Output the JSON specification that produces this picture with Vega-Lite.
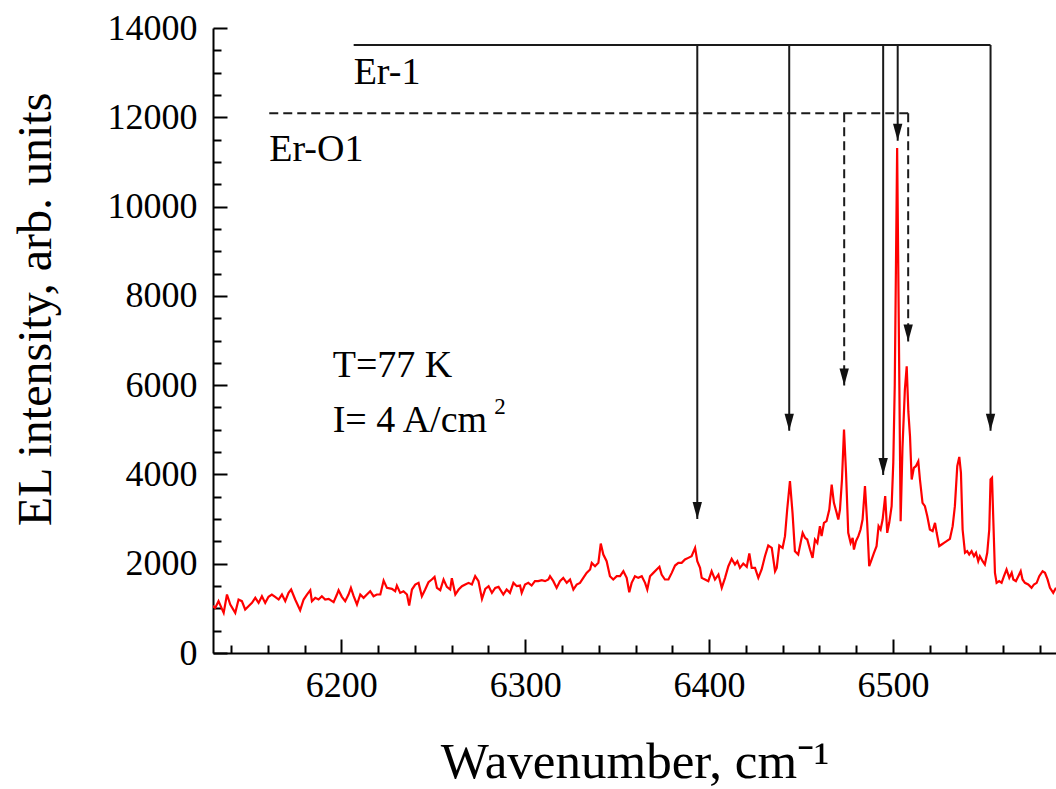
{
  "$schema": "https://vega.github.io/schema/vega-lite/v6.json",
  "width": 843,
  "height": 625,
  "autosize": {"type": "none"},
  "padding": {"left": 213, "top": 28, "right": 0, "bottom": 136},
  "background": "white",
  "config": {
    "view": {"stroke": null},
    "font": "Liberation Serif",
    "axis": {
      "domainColor": "#000",
      "domainWidth": 2,
      "tickColor": "#000",
      "tickWidth": 2,
      "labelFont": "Liberation Serif",
      "labelFontSize": 36,
      "labelColor": "#000",
      "labelOverlap": false,
      "labelFlush": false,
      "labelBound": false,
      "titleFont": "Liberation Serif",
      "titleFontWeight": "normal",
      "titleColor": "#000",
      "grid": false
    }
  },
  "datasets": {
    "spectrum": [
      {"wn":6129.6,"val":1063},{"wn":6131.4,"val":1011},{"wn":6133.2,"val":1161},{"wn":6136.0,"val":899},{"wn":6137.8,"val":1310},{"wn":6139.6,"val":1086},{"wn":6142.3,"val":899},{"wn":6144.1,"val":1198},{"wn":6145.9,"val":1161},{"wn":6147.7,"val":974},{"wn":6149.5,"val":1049},{"wn":6151.4,"val":1123},{"wn":6153.2,"val":1235},{"wn":6155.0,"val":1123},{"wn":6156.8,"val":1272},{"wn":6158.6,"val":1123},{"wn":6160.4,"val":1258},{"wn":6162.2,"val":1310},{"wn":6164.0,"val":1258},{"wn":6165.9,"val":1198},{"wn":6167.7,"val":1310},{"wn":6169.5,"val":1161},{"wn":6171.3,"val":1347},{"wn":6172.7,"val":1422},{"wn":6174.9,"val":1198},{"wn":6177.6,"val":959},{"wn":6179.5,"val":1198},{"wn":6181.3,"val":1310},{"wn":6183.1,"val":1407},{"wn":6184.0,"val":1161},{"wn":6185.8,"val":1235},{"wn":6187.6,"val":1198},{"wn":6189.4,"val":1272},{"wn":6191.2,"val":1198},{"wn":6193.1,"val":1213},{"wn":6195.8,"val":1138},{"wn":6197.6,"val":1310},{"wn":6198.5,"val":1407},{"wn":6200.3,"val":1258},{"wn":6202.1,"val":1161},{"wn":6203.9,"val":1310},{"wn":6205.2,"val":1459},{"wn":6206.7,"val":1272},{"wn":6208.5,"val":1086},{"wn":6210.3,"val":1310},{"wn":6212.1,"val":1235},{"wn":6213.9,"val":1310},{"wn":6215.7,"val":1384},{"wn":6217.5,"val":1272},{"wn":6219.3,"val":1310},{"wn":6221.2,"val":1310},{"wn":6223.0,"val":1623},{"wn":6224.8,"val":1459},{"wn":6227.5,"val":1437},{"wn":6229.3,"val":1384},{"wn":6230.2,"val":1511},{"wn":6232.0,"val":1347},{"wn":6233.8,"val":1384},{"wn":6235.7,"val":1310},{"wn":6236.9,"val":1063},{"wn":6238.4,"val":1422},{"wn":6240.2,"val":1534},{"wn":6242.0,"val":1571},{"wn":6243.8,"val":1272},{"wn":6245.6,"val":1422},{"wn":6247.4,"val":1586},{"wn":6249.2,"val":1646},{"wn":6250.7,"val":1705},{"wn":6252.0,"val":1459},{"wn":6253.8,"val":1407},{"wn":6255.6,"val":1646},{"wn":6257.4,"val":1481},{"wn":6259.2,"val":1422},{"wn":6260.1,"val":1676},{"wn":6262.0,"val":1310},{"wn":6263.8,"val":1422},{"wn":6265.6,"val":1496},{"wn":6267.4,"val":1534},{"wn":6269.2,"val":1571},{"wn":6271.0,"val":1534},{"wn":6272.8,"val":1720},{"wn":6274.6,"val":1608},{"wn":6276.5,"val":1213},{"wn":6278.3,"val":1437},{"wn":6280.1,"val":1496},{"wn":6281.9,"val":1347},{"wn":6283.7,"val":1459},{"wn":6285.5,"val":1481},
      {"wn":6288.1,"val":1310},{"wn":6289.9,"val":1422},{"wn":6291.7,"val":1347},{"wn":6293.6,"val":1571},{"wn":6295.4,"val":1497},{"wn":6297.2,"val":1511},{"wn":6298.1,"val":1347},{"wn":6299.9,"val":1534},{"wn":6301.7,"val":1571},{"wn":6303.5,"val":1511},{"wn":6305.3,"val":1609},{"wn":6307.1,"val":1609},{"wn":6309.0,"val":1631},{"wn":6310.8,"val":1609},{"wn":6312.6,"val":1646},{"wn":6313.5,"val":1720},{"wn":6315.3,"val":1609},{"wn":6317.1,"val":1459},{"wn":6318.9,"val":1609},{"wn":6320.7,"val":1683},{"wn":6322.6,"val":1571},{"wn":6324.4,"val":1646},{"wn":6326.2,"val":1422},{"wn":6328.0,"val":1534},{"wn":6329.8,"val":1571},{"wn":6331.6,"val":1683},{"wn":6333.4,"val":1795},{"wn":6335.3,"val":1870},{"wn":6336.2,"val":2019},{"wn":6338.0,"val":1944},{"wn":6339.8,"val":2019},{"wn":6341.1,"val":2452},{"wn":6342.5,"val":2206},{"wn":6344.3,"val":2056},{"wn":6346.1,"val":1720},{"wn":6347.9,"val":1646},{"wn":6349.8,"val":1720},{"wn":6351.6,"val":1720},{"wn":6353.4,"val":1832},{"wn":6355.2,"val":1683},{"wn":6356.6,"val":1362},{"wn":6357.9,"val":1571},{"wn":6359.7,"val":1720},{"wn":6361.5,"val":1683},{"wn":6363.4,"val":1720},{"wn":6365.2,"val":1571},{"wn":6366.4,"val":1422},{"wn":6367.9,"val":1720},{"wn":6369.7,"val":1795},{"wn":6371.5,"val":1870},{"wn":6373.0,"val":1929},{"wn":6374.2,"val":1758},{"wn":6376.0,"val":1646},{"wn":6377.9,"val":1646},{"wn":6379.7,"val":1795},{"wn":6381.5,"val":1959},{"wn":6383.3,"val":2019},{"wn":6385.1,"val":2019},{"wn":6386.9,"val":2094},{"wn":6388.7,"val":2131},{"wn":6390.5,"val":2168},{"wn":6392.4,"val":2355},{"wn":6393.6,"val":2056},{"wn":6395.1,"val":1907},{"wn":6396.0,"val":1683},{"wn":6397.8,"val":1646},{"wn":6399.6,"val":1609},{"wn":6401.4,"val":1832},{"wn":6403.2,"val":1646},{"wn":6405.1,"val":1758},{"wn":6406.9,"val":1459},{"wn":6408.7,"val":1683},{"wn":6410.5,"val":1944},{"wn":6412.3,"val":2109},{"wn":6414.1,"val":1982},{"wn":6415.4,"val":2056},{"wn":6416.8,"val":1907},{"wn":6418.6,"val":2004},{"wn":6420.5,"val":1929},{"wn":6421.9,"val":2228},{"wn":6423.2,"val":1907},{"wn":6425.0,"val":1907},{"wn":6426.8,"val":1683},{"wn":6428.6,"val":1870},{"wn":6430.4,"val":2168},{"wn":6432.2,"val":2407},{"wn":6434.1,"val":2355},{"wn":6435.9,"val":1832},{"wn":6436.8,"val":1907},{"wn":6438.2,"val":2407},
      {"wn":6440.0,"val":2356},{"wn":6441.3,"val":2617},{"wn":6442.5,"val":3214},{"wn":6444.0,"val":3848},{"wn":6445.4,"val":3139},{"wn":6446.7,"val":2281},{"wn":6448.5,"val":2207},{"wn":6449.8,"val":2468},{"wn":6450.9,"val":2692},{"wn":6452.2,"val":2580},{"wn":6453.4,"val":2542},{"wn":6454.9,"val":2318},{"wn":6456.3,"val":2132},{"wn":6457.6,"val":2542},{"wn":6458.9,"val":2468},{"wn":6460.3,"val":2841},{"wn":6461.2,"val":2617},{"wn":6462.5,"val":2916},{"wn":6463.9,"val":2953},{"wn":6465.4,"val":3214},{"wn":6466.7,"val":3774},{"wn":6467.9,"val":3363},{"wn":6469.4,"val":3139},{"wn":6470.3,"val":2990},{"wn":6471.2,"val":3214},{"wn":6472.3,"val":3886},{"wn":6473.4,"val":5005},{"wn":6474.5,"val":4035},{"wn":6475.7,"val":2692},{"wn":6477.0,"val":2468},{"wn":6478.1,"val":2580},{"wn":6478.8,"val":2318},{"wn":6479.9,"val":2505},{"wn":6481.2,"val":2617},{"wn":6482.4,"val":2766},{"wn":6483.5,"val":2990},{"wn":6484.8,"val":3737},{"wn":6486.0,"val":2916},{"wn":6487.1,"val":1945},{"wn":6488.4,"val":2094},{"wn":6489.7,"val":2244},{"wn":6491.1,"val":2393},{"wn":6492.2,"val":2841},{"wn":6493.3,"val":2766},{"wn":6494.4,"val":2990},{"wn":6495.8,"val":3513},{"wn":6496.9,"val":2692},{"wn":6498.0,"val":2916},{"wn":6499.3,"val":3289},{"wn":6500.2,"val":4259},{"wn":6501.0,"val":6000},{"wn":6502.3,"val":11313},{"wn":6503.5,"val":6000},{"wn":6504.2,"val":2953},{"wn":6505.2,"val":4600},{"wn":6506.5,"val":5900},{"wn":6507.5,"val":6420},{"wn":6508.4,"val":5400},{"wn":6509.3,"val":4850},{"wn":6510.2,"val":3886},{"wn":6511.4,"val":4147},{"wn":6512.5,"val":4184},{"wn":6513.8,"val":4296},{"wn":6514.7,"val":3886},{"wn":6516.1,"val":3363},{"wn":6517.4,"val":3289},{"wn":6518.7,"val":3065},{"wn":6520.1,"val":2766},{"wn":6521.6,"val":2729},{"wn":6522.9,"val":2916},{"wn":6523.8,"val":2692},{"wn":6525.2,"val":2393},{"wn":6526.5,"val":2430},{"wn":6527.8,"val":2468},{"wn":6529.2,"val":2505},{"wn":6531.0,"val":2557},{"wn":6532.5,"val":2841},{"wn":6533.7,"val":3289},{"wn":6535.0,"val":4184},{"wn":6536.1,"val":4393},{"wn":6537.0,"val":4035},{"wn":6537.9,"val":2766},{"wn":6539.2,"val":2244},{"wn":6540.4,"val":2281},{"wn":6541.5,"val":2207},{"wn":6542.8,"val":2281},{"wn":6544.1,"val":2169},{"wn":6545.2,"val":2244},{"wn":6546.4,"val":2057},{"wn":6547.3,"val":2169},{"wn":6548.8,"val":2057},{"wn":6550.0,"val":1982},{"wn":6551.3,"val":2244},{"wn":6552.4,"val":2766},{"wn":6553.1,"val":3886},{"wn":6553.9,"val":3923},{"wn":6554.6,"val":2990},{"wn":6555.5,"val":1796},{"wn":6556.4,"val":1572},{"wn":6557.8,"val":1609},{"wn":6559.1,"val":1572},{"wn":6560.4,"val":1721},{"wn":6561.8,"val":1870},{"wn":6563.3,"val":1684},{"wn":6564.6,"val":1796},{"wn":6565.5,"val":1647},{"wn":6566.9,"val":1609},{"wn":6568.2,"val":1721},{"wn":6569.5,"val":1833},{"wn":6570.5,"val":1647},{"wn":6571.8,"val":1572},{"wn":6573.6,"val":1535},{"wn":6575.4,"val":1460},{"wn":6576.7,"val":1535},{"wn":6578.2,"val":1572},{"wn":6579.6,"val":1721},{"wn":6581.4,"val":1833},{"wn":6582.7,"val":1796},{"wn":6584.1,"val":1647},{"wn":6585.4,"val":1460},{"wn":6587.2,"val":1348},{"wn":6588.7,"val":1460}
    ],
    "segments": [
      {"grp":"Er-1","wn":6206.7,"wn2":6553.1,"val":13620,"val2":13620},
      {"grp":"Er-1","wn":6393.6,"wn2":6393.6,"val":13620,"val2":3000},
      {"grp":"Er-1","wn":6443.6,"wn2":6443.6,"val":13620,"val2":4980},
      {"grp":"Er-1","wn":6494.7,"wn2":6494.7,"val":13620,"val2":3990},
      {"grp":"Er-1","wn":6502.6,"wn2":6502.6,"val":13620,"val2":11475},
      {"grp":"Er-1","wn":6553.1,"wn2":6553.1,"val":13620,"val2":4980},
      {"grp":"Er-O1","wn":6160.8,"wn2":6508.3,"val":12090,"val2":12090},
      {"grp":"Er-O1","wn":6473.5,"wn2":6473.5,"val":12090,"val2":5990},
      {"grp":"Er-O1","wn":6508.3,"wn2":6508.3,"val":12090,"val2":6975}
    ],
    "tips": [
      {"wn":6393.6,"val":3000},
      {"wn":6443.6,"val":4980},
      {"wn":6494.7,"val":3990},
      {"wn":6502.6,"val":11475},
      {"wn":6553.1,"val":4980},
      {"wn":6473.5,"val":5990},
      {"wn":6508.3,"val":6975}
    ],
    "notes": [
      {"wn":6206.7,"val":12746,"label":"Er-1"},
      {"wn":6160.8,"val":11028,"label":"Er-O1"},
      {"wn":6195.3,"val":6189,"label":"T=77 K"},
      {"wn":6195.3,"val":4944,"label":"I= 4 A/cm"}
    ],
    "sup": [
      {"wn":6283.2,"val":5354,"label":"2"}
    ]
  },
  "encoding": {
    "x": {
      "field": "wn",
      "type": "quantitative",
      "scale": {"domain": [6130.2, 6588.7], "nice": false, "zero": false},
      "axis": {
        "title": "Wavenumber, cm⁻¹",
        "titleFont": "Liberation Serif",
        "titleFontSize": 51,
        "titleBaseline": "alphabetic",
        "titleY": 124,
        "values": [6140,6160,6180,6200,6220,6240,6260,6280,6300,6320,6340,6360,6380,6400,6420,6440,6460,6480,6500,6520,6540,6560,6580],
        "format": "d",
        "labelFont": "Liberation Serif",
        "labelFontSize": 36,
        "labelExpr": "datum.value % 100 === 0 ? datum.label : ''",
        "tickSize": {"condition": {"test": "datum.value % 100 === 0", "value": -14}, "value": -8},
        "labelPadding": 29
      }
    },
    "y": {
      "field": "val",
      "type": "quantitative",
      "scale": {"domain": [0, 14000], "nice": false},
      "axis": {
        "title": "EL intensity, arb. units",
        "titleFont": "Liberation Serif",
        "titleFontSize": 48,
        "titleAngle": -90,
        "titleAlign": "center",
        "titleBaseline": "alphabetic",
        "titleX": -163,
        "titleY": 281,
        "values": [0,500,1000,1500,2000,2500,3000,3500,4000,4500,5000,5500,6000,6500,7000,7500,8000,8500,9000,9500,10000,10500,11000,11500,12000,12500,13000,13500,14000],
        "format": "d",
        "labelFont": "Liberation Serif",
        "labelFontSize": 36,
        "labelExpr": "datum.value % 2000 === 0 ? datum.label : ''",
        "tickSize": {"condition": {"test": "datum.value % 2000 === 0", "value": -14}, "value": -8},
        "labelPadding": 30
      }
    }
  },
  "layer": [
    {
      "data": {"name": "spectrum"},
      "mark": {"type": "line", "color": "#ff0000", "strokeWidth": 2.2, "clip": true}
    },
    {
      "data": {"name": "segments"},
      "mark": {"type": "rule", "color": "#1a1a1a", "strokeWidth": 2},
      "encoding": {
        "x2": {"field": "wn2"},
        "y2": {"field": "val2"},
        "strokeDash": {"field": "grp", "type": "nominal", "scale": {"domain": ["Er-1", "Er-O1"], "range": [[1, 0], [9, 5]]}, "legend": null}
      }
    },
    {
      "data": {"name": "tips"},
      "mark": {"type": "point", "shape": "M-0.55,-2L0.55,-2L0,0Z", "size": 289, "filled": true, "color": "#111111", "opacity": 1, "strokeWidth": 0}
    },
    {
      "data": {"name": "notes"},
      "mark": {"type": "text", "font": "Liberation Serif", "fontSize": 38, "align": "left", "baseline": "alphabetic", "color": "#000"},
      "encoding": {"text": {"field": "label"}}
    },
    {
      "data": {"name": "sup"},
      "mark": {"type": "text", "font": "Liberation Serif", "fontSize": 23, "align": "left", "baseline": "alphabetic", "color": "#000"},
      "encoding": {"text": {"field": "label"}}
    }
  ]
}
